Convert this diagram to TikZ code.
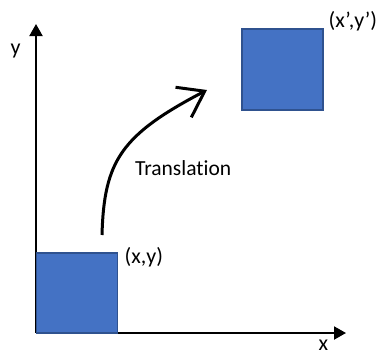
\documentclass[tikz,border=0pt]{standalone}
\usepackage{fontspec}
\setmainfont[Ligatures={NoCommon}]{Carlito}
\usetikzlibrary{arrows.meta}
\definecolor{boxfill}{HTML}{4472C4}
\definecolor{boxline}{HTML}{2F528F}
\tikzset{
  axis/.style={line width=2pt,-{Triangle[length=12pt,width=13pt]}},
  sq/.style={draw=boxline,fill=boxfill,line width=1.6pt,inner sep=0pt,minimum width=81pt,minimum height=80pt},
  lbl/.style={font=\fontsize{22}{24}\selectfont,inner sep=0pt},
  move/.style={line width=3pt,-{Straight Barb[length=24pt,width=34pt,line width=3pt]}}
}
\begin{document}
\begin{tikzpicture}[x=1pt,y=-1pt]
\useasboundingbox (0,0) rectangle (385,356);
\coordinate (o) at (36,333);
\coordinate (ytip) at (36,24);
\coordinate (xtip) at (346,333);
\draw[axis] (o) -- (ytip);
\draw[axis] (o) -- (xtip);
\node[lbl] (ylab) at (15.5,51) {y};
\node[lbl] (xlab) at (323.5,345) {x};
\node[sq] (small) at (77,293) {};
\node[sq,minimum height=81pt] (big) at (282.5,69.5) {};
\node[lbl,anchor=west] (p1) at (124.5,257.5) {(x,y)};
\node[lbl,anchor=west] (p2) at (328.5,21.5) {(x’,y’)};
\node[lbl,font=\fontsize{21.5}{23}\selectfont,anchor=west] (tr) at (135,168) {Translation};
\coordinate (cs) at (102,235);
\coordinate (ce) at (207,90);
\draw[move] (cs) .. controls (104,161) and (121,135) .. (ce);
\end{tikzpicture}
\end{document}
